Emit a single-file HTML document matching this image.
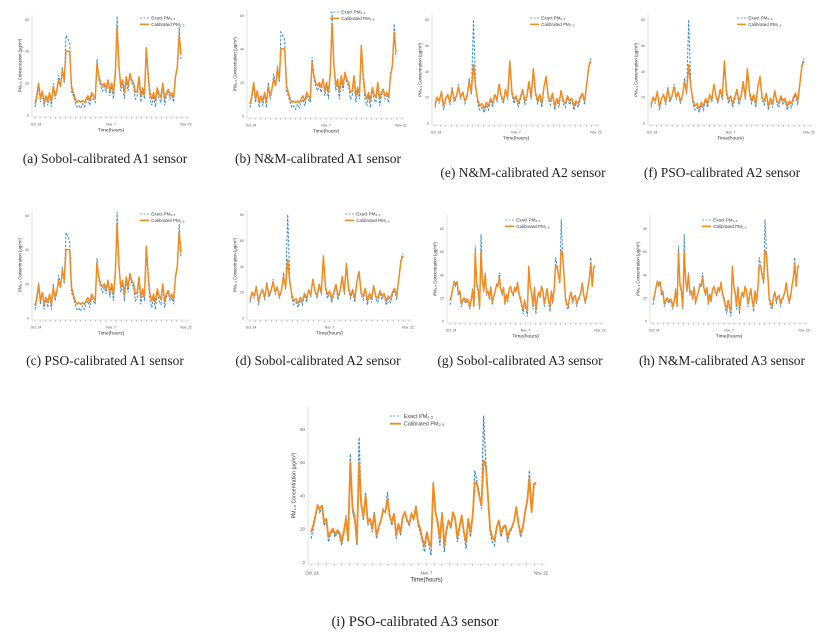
<!DOCTYPE html>
<html><head><meta charset="utf-8">
<style>
body{margin:0;width:834px;height:639px;background:#fff;position:relative;overflow:hidden;font-family:"Liberation Sans",sans-serif}
svg{position:absolute;left:0;top:0}
.cap{position:absolute;font-family:"Liberation Serif",serif;font-size:13.5px;color:#222;white-space:nowrap;transform:translateX(-50%)}
</style></head><body>
<svg id="fig" width="834" height="639"></svg>
<div class="cap" style="left:105px;top:151px">(a) Sobol-calibrated A1 sensor</div>
<div class="cap" style="left:318px;top:151px">(b) N&amp;M-calibrated A1 sensor</div>
<div class="cap" style="left:523px;top:165px">(e) N&amp;M-calibrated A2 sensor</div>
<div class="cap" style="left:722px;top:165px">(f) PSO-calibrated A2 sensor</div>
<div class="cap" style="left:105px;top:353px">(c) PSO-calibrated A1 sensor</div>
<div class="cap" style="left:318px;top:353px">(d) Sobol-calibrated A2 sensor</div>
<div class="cap" style="left:520px;top:353px">(g) Sobol-calibrated A3 sensor</div>
<div class="cap" style="left:722px;top:353px">(h) N&amp;M-calibrated A3 sensor</div>
<div class="cap" style="left:415px;top:614px;font-size:14.5px">(i) PSO-calibrated A3 sensor</div>
<script>
const exactA1=[5,10,18,8,15,5,12,6,14,5,20,10,15,25,18,30,20,50,48,45,15,12,8,5,6,4,7,5,8,10,6,12,10,8,35,22,18,15,18,14,22,12,18,10,25,62,30,15,20,10,22,15,25,20,18,10,12,22,8,15,10,40,22,10,6,12,5,15,10,8,18,6,12,15,10,12,8,25,30,55,35];
const calA1=[7,12,20,10,15,8,12,9,14,8,18,12,16,22,18,28,22,40,40,40,18,14,10,8,9,8,9,8,10,12,9,14,12,10,32,24,20,18,20,17,22,15,20,14,26,55,30,18,22,14,24,18,26,22,20,14,15,24,12,17,13,42,25,14,10,14,9,17,13,11,20,10,14,16,12,14,11,24,30,50,38];
const exactA2=[12,20,15,25,10,18,22,14,28,16,20,30,18,24,15,20,35,22,80,30,15,10,12,8,14,10,18,12,22,16,30,20,15,25,18,45,22,15,20,12,18,25,14,20,30,18,40,22,15,20,12,28,35,18,14,22,10,18,12,25,15,12,20,14,18,10,15,12,18,22,14,30,45,50];
const calA2=[14,20,17,24,13,19,22,16,26,18,21,28,20,24,17,21,32,24,45,28,18,13,15,11,16,13,19,15,22,18,30,21,17,26,20,48,24,18,21,15,20,26,17,21,32,20,42,24,17,22,15,28,36,20,17,23,13,19,15,25,17,15,21,17,19,13,17,15,20,23,17,30,44,48];
const exactA3=[14,20,27,35,30,33,22,25,12,17,19,15,18,16,10,17,28,12,65,30,25,10,75,35,25,42,22,26,18,30,14,20,25,32,30,42,28,22,29,14,22,16,27,30,24,22,29,25,34,22,18,12,6,17,10,4,48,30,22,10,30,6,18,25,20,30,25,12,20,28,17,8,25,15,28,55,48,42,32,88,60,40,18,12,10,20,25,15,20,22,12,18,20,25,32,22,15,20,30,38,55,30,47,48];
const calA3=[18,22,28,34,32,34,24,26,15,18,20,17,19,18,12,18,26,13,60,33,27,12,60,35,27,40,24,26,20,29,16,21,25,31,30,38,28,24,29,16,23,18,27,30,25,23,29,26,33,24,20,14,10,18,12,9,47,30,24,14,29,10,19,25,21,30,26,15,21,28,18,12,26,17,28,48,47,40,34,61,58,40,20,15,13,21,25,17,21,22,15,19,21,25,33,23,17,21,30,37,50,30,46,48];
const yTicks=[0,20,40,60,80];
const xTickLabels=["Oct. 24","Nov. 7","Nov. 22"];
const NS="http://www.w3.org/2000/svg";
const fig=document.getElementById('fig');
function mk(tag,attrs,parent){const e=document.createElementNS(NS,tag);for(const k in attrs)e.setAttribute(k,attrs[k]);(parent||fig).appendChild(e);return e;}
function panel(id,x0,y0,w,h,exact,cal,ymax,fs,legPos){
  const g=mk('g',{});
  
  
  const xs=(i,n)=>x0+3+i*(w-12)/(n-1);
  const ys=v=>y0+h-2-v/ymax*(h-4);
  const ax=mk('path',{d:`M${x0} ${y0}V${y0+h}H${x0+w}`,fill:'none',stroke:'#ccc','stroke-width':0.6},g);
  
  yTicks.forEach(t=>{if(t>ymax)return;const tl=mk('text',{x:x0-3,y:ys(t)+fs*0.35,'font-size':fs*0.8,'text-anchor':'end',fill:'#666'},g);tl.textContent=t;
    });
  for(let k=0;k<=30;k++){const tx=x0+3+k*(w-6)/30;mk('line',{x1:tx,x2:tx,y1:y0+h,y2:y0+h+2,stroke:'#888','stroke-width':0.4},g);}
  xTickLabels.forEach((s,k)=>{const t=mk('text',{x:x0+4+k*(w-8)/2,y:y0+h+fs*1.9,'font-size':fs*0.75,'text-anchor':'middle',fill:'#555'},g);t.textContent=s;
    });
  const xl=mk('text',{x:x0+w/2,y:y0+h+fs*3.2,'font-size':fs*1.1,'text-anchor':'middle',fill:'#333'},g);xl.textContent='Time(hours)';
  
  const yl=mk('text',{x:0,y:0,'font-size':fs*0.95,'text-anchor':'middle',fill:'#333',transform:`translate(${x0-fs*2.3},${y0+h/2}) rotate(-90)`},g);yl.textContent='PM₂.₅ Concentration (μg/m³)';
  
  const pe=exact.map((v,i)=>`${i?'L':'M'}${xs(i,exact.length).toFixed(1)} ${ys(v).toFixed(1)}`).join('');
  const pc=cal.map((v,i)=>`${i?'L':'M'}${xs(i,cal.length).toFixed(1)} ${ys(v).toFixed(1)}`).join('');
  const l1=mk('path',{d:pe,fill:'none',stroke:'#3b8ed0','stroke-width':fs/4.5,'stroke-dasharray':'2.5 1.5'},g);
  
  const l2=mk('path',{d:pc,fill:'none',stroke:'#f58a1f','stroke-width':fs/3,'stroke-linejoin':'round'},g);
  
  const lx=legPos[0],ly=legPos[1];
  mk('line',{x1:lx,x2:lx+fs*2,y1:ly,y2:ly,stroke:'#3b8ed0','stroke-dasharray':'2 1.5','stroke-width':0.8},g);
  mk('line',{x1:lx,x2:lx+fs*2,y1:ly+fs*1.4,y2:ly+fs*1.4,stroke:'#f58a1f','stroke-width':fs/3},g);
  const t1=mk('text',{x:lx+fs*2.5,y:ly+fs*0.35,'font-size':fs,fill:'#444'},g);t1.textContent='Exact PM₂.₅';
  
  const t2=mk('text',{x:lx+fs*2.5,y:ly+fs*1.75,'font-size':fs,fill:'#444'},g);t2.textContent='Calibrated PM₂.₅';
  
}
panel('a',32,14,158,103,exactA1,calA1,62,4.5,[140,18]);
panel('b',247,10,158,108,exactA1,calA1,62,4.5,[330,12]);
panel('e',432,15,168,110,exactA2,calA2,82,4.5,[530,18]);
panel('f',648,15,165,110,exactA2,calA2,82,4.5,[737,18]);
panel('c',32,210,158,110,exactA1,calA1,62,4.5,[140,214]);
panel('d',247,210,165,110,exactA2,calA2,82,4.5,[345,214]);
panel('g',447,215,157,108,exactA3,calA3,90,4.5,[505,220]);
panel('h',650,215,158,108,exactA3,calA3,90,4.5,[702,220]);
panel('i',308,407,237,157,exactA3,calA3,92,5.5,[390,416]);
</script>
</body></html>
